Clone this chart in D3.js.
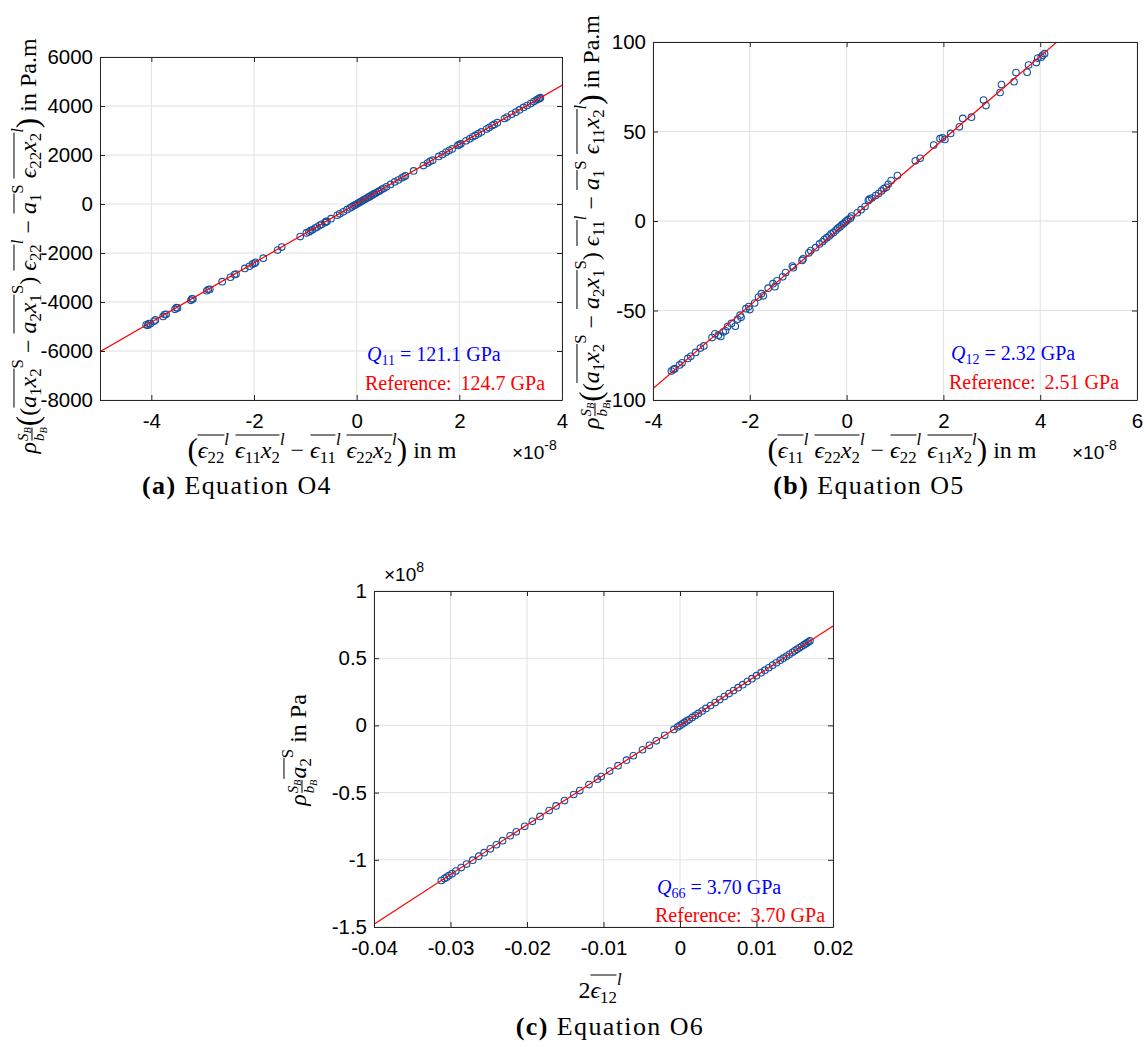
<!DOCTYPE html>
<html>
<head>
<meta charset="utf-8">
<script src="https://cdn.jsdelivr.net/npm/d3@7"></script>
<style>
body { margin: 0; background: #fff; }
#fig { position: relative; width: 1146px; height: 1047px; overflow: hidden; }
#fig svg { position: absolute; left: 0; top: 0; }
.m { position: absolute; white-space: nowrap; font-family: "Liberation Serif", "Times New Roman", serif;
     font-size: 24px; color: #000; line-height: 1; transform: translate(-50%, -50%); }
.m.rot { transform: translate(-50%, -50%) rotate(-90deg); }
.m sub, .m sup { font-size: 0.7em; line-height: 0; position: relative; vertical-align: baseline; }
.m sub { top: 0.28em; }
.m sup { top: -0.55em; }
.m sup.hi { top: -0.8em; }
.ov { display: inline-block; border-top: 1px solid #000; padding-top: 2px; line-height: 1; }
.fr { display: inline-flex; flex-direction: column; font-size: 0.62em; vertical-align: 0.55em;
      text-align: center; line-height: 1.05; margin: 0 1px; }
.fr > span:first-child { border-bottom: 1px solid #000; }
.big { font-size: 1.3em; line-height: 0.8; position: relative; top: 0.08em; }
.cap { position: absolute; white-space: nowrap; font-family: "Liberation Serif", serif; font-size: 26px;
       line-height: 1; transform: translate(-50%, -50%); letter-spacing: 1.4px; }
</style>
</head>
<body>
<div id="fig"></div>
<script>
// ---- data ----
// (a) Equation O4 : x in 1e-8 m, y in Pa.m
var xA = [-4.10,-4.07,-4.05,-4.02,-3.95,-3.92,-3.77,-3.74,-3.71,-3.54,-3.51,-3.49,-3.23,-3.21,-3.19,-2.92,-2.89,-2.86,
  -2.62,-2.46,-2.38,-2.35,-2.18,-2.09,-2.03,-1.99,-1.97,-1.82,-1.54,-1.46,-1.10,-0.98,-0.93,-0.90,-0.86,-0.81,-0.77,
  -0.72,-0.68,-0.62,-0.60,-0.58,-0.50,-0.38,-0.33,-0.26,-0.19,-0.13,-0.09,-0.05,-0.02,0.01,0.03,0.06,0.08,0.11,0.14,
  0.17,0.20,0.23,0.26,0.29,0.32,0.35,0.38,0.42,0.45,0.49,0.53,0.58,0.66,0.74,0.81,0.88,0.92,0.95,1.11,1.30,1.38,1.43,
  1.48,1.60,1.67,1.74,1.80,1.86,1.97,2.00,2.03,2.13,2.20,2.26,2.31,2.37,2.43,2.53,2.58,2.64,2.68,2.74,2.88,2.93,3.02,
  3.10,3.17,3.25,3.32,3.39,3.45,3.50,3.53,3.56,3.58];
var yA = [-4930,-4950,-4880,-4890,-4790,-4730,-4590,-4510,-4500,-4300,-4230,-4240,-3930,-3870,-3880,-3540,-3490,-3480,
  -3170,-2990,-2880,-2860,-2630,-2540,-2450,-2420,-2380,-2210,-1880,-1760,-1330,-1180,-1140,-1090,-1050,-980,-940,
  -870,-830,-760,-720,-710,-600,-460,-400,-320,-230,-160,-110,-60,-30,10,40,70,100,130,170,
  200,240,280,310,350,390,420,460,510,540,600,640,700,800,900,980,1070,1110,1150,1350,1570,1670,1740,
  1790,1940,2020,2110,2180,2250,2390,2420,2460,2580,2660,2740,2800,2870,2940,3060,3120,3200,3250,3320,3490,3550,3660,
  3750,3840,3940,4020,4100,4180,4240,4280,4310,4340];
var lineA = [[-5, -6030], [4, 4845]];

// (b) Equation O5 : x in 1e-8 m, y in Pa.m
var xB = [-3.62,-3.58,-3.55,-3.45,-3.40,-3.28,-3.22,-3.12,-3.02,-2.95,-2.78,-2.72,-2.65,-2.60,-2.55,-2.50,-2.46,-2.38,
  -2.30,-2.25,-2.20,-2.18,-2.08,-2.02,-2.00,-1.90,-1.82,-1.76,-1.72,-1.62,-1.52,-1.48,-1.44,-1.32,-1.26,-1.12,-1.10,
  -0.92,-0.90,-0.78,-0.74,-0.64,-0.56,-0.50,-0.46,-0.41,-0.36,-0.32,-0.27,-0.22,-0.18,-0.14,-0.10,-0.06,-0.03,0.00,
  0.03,0.08,0.10,0.22,0.30,0.38,0.45,0.47,0.52,0.60,0.66,0.72,0.77,0.82,0.86,0.92,1.05,1.42,1.52,1.80,1.93,1.98,2.03,
  2.15,2.33,2.40,2.58,2.83,2.88,3.17,3.20,3.46,3.50,3.73,3.76,3.92,3.95,4.02,4.05,4.09];
var yB = [-83.8,-83.0,-82.5,-80.4,-79.2,-76.8,-75.6,-73.4,-71.0,-69.8,-65.1,-63.0,-63.8,-64.5,-62.0,-61.3,-59.0,-57.2,
  -58.8,-54.9,-52.6,-53.8,-49.0,-47.8,-49.5,-45.8,-42.5,-40.6,-41.8,-37.5,-35.0,-36.7,-33.4,-31.2,-28.8,-25.2,-26.1,
  -22.0,-21.2,-17.8,-16.5,-14.9,-12.8,-11.6,-10.4,-9.3,-8.4,-7.2,-6.4,-5.1,-4.0,-3.3,-2.2,-1.4,-0.6,0.1,
  0.8,1.6,2.8,4.6,6.3,8.1,11.4,12.2,12.8,14.2,15.3,16.8,18.1,18.8,20.5,22.6,25.4,33.6,35.0,42.4,46.0,46.5,45.6,
  48.9,52.6,57.3,58.0,67.6,64.5,71.8,76.2,77.8,82.9,83.1,87.1,88.5,91.0,91.5,92.6,93.5];
var lineB = [[-4, -93.6], [6, 138.4]];

// (c) Equation O6 : x = 2 eps12, y in 1e8 Pa
var xC = [-0.0312,-0.0308,-0.0305,-0.0302,-0.0298,-0.0293,-0.0286,-0.0279,-0.0271,-0.0263,-0.0256,-0.0248,-0.0240,
  -0.0232,-0.0222,-0.0214,-0.0203,-0.0193,-0.0183,-0.0171,-0.0162,-0.0151,-0.0139,-0.0131,-0.0119,-0.0108,-0.0103,
  -0.0092,-0.0081,-0.0070,-0.0061,-0.0049,-0.0040,-0.0031,-0.0020,-0.0008,-0.0003,0.0000,0.0003,0.0006,0.0009,0.0012,
  0.0016,0.0020,0.0024,0.0029,0.0034,0.0040,0.0046,0.0052,0.0058,0.0064,0.0070,0.0076,0.0082,0.0088,0.0094,0.0100,
  0.0106,0.0111,0.0116,0.0121,0.0126,0.0131,0.0135,0.0139,0.0143,0.0147,0.0150,0.0153,0.0156,0.0159,0.0162,0.0164,
  0.0166,0.0168,0.0170];
var yC = [-1.154,-1.140,-1.129,-1.117,-1.103,-1.084,-1.058,-1.032,-1.003,-0.973,-0.947,-0.918,-0.888,
  -0.858,-0.821,-0.792,-0.751,-0.714,-0.677,-0.633,-0.599,-0.559,-0.514,-0.485,-0.440,-0.400,-0.381,
  -0.340,-0.300,-0.259,-0.226,-0.181,-0.148,-0.115,-0.074,-0.030,-0.011,0.000,0.011,0.022,0.033,0.044,
  0.059,0.074,0.089,0.107,0.126,0.148,0.170,0.192,0.215,0.237,0.259,0.281,0.303,0.326,0.348,0.370,
  0.392,0.411,0.429,0.448,0.466,0.485,0.500,0.514,0.529,0.544,0.555,0.566,0.577,0.588,0.599,0.607,
  0.614,0.622,0.629];
var lineC = [[-0.04, -1.48], [0.02, 0.74]];

// tick values
var xTicksA = [-4, -2, 0, 2, 4], yTicksA = [-8000, -6000, -4000, -2000, 0, 2000, 4000, 6000];
var xTicksB = [-4, -2, 0, 2, 4, 6], yTicksB = [-100, -50, 0, 50, 100];
var xTicksC = [-0.04, -0.03, -0.02, -0.01, 0, 0.01, 0.02], yTicksC = [-1.5, -1, -0.5, 0, 0.5, 1];

var fitText = [["11", "121.1"], ["12", "2.32"], ["66", "3.70"]];
var refText = ["124.7", "2.51", "3.70"];

var W = 1146, H = 1047;
var fig = d3.select("#fig");
var svg = fig.append("svg").attr("width", W).attr("height", H);

var markerColor = "#15509f", lineColor = "#ff0000", axisColor = "#262626", gridColor = "#e0e0e0";
var sans = "'Liberation Sans', Arial, sans-serif";

function panel(p, idx) {
  var x = d3.scaleLinear().domain(p.xDom).range([p.l, p.r]);
  var y = d3.scaleLinear().domain(p.yDom).range([p.b, p.t]);
  var g = svg.append("g");

  // grid
  g.append("g").selectAll("line").data(p.xTicks).join("line")
    .attr("x1", d => x(d)).attr("x2", d => x(d)).attr("y1", p.t).attr("y2", p.b)
    .attr("stroke", gridColor).attr("stroke-width", 1);
  g.append("g").selectAll("line").data(p.yTicks).join("line")
    .attr("y1", d => y(d)).attr("y2", d => y(d)).attr("x1", p.l).attr("x2", p.r)
    .attr("stroke", gridColor).attr("stroke-width", 1);

  var clipId = "clip" + idx;
  svg.append("clipPath").attr("id", clipId).append("rect")
    .attr("x", p.l).attr("y", p.t).attr("width", p.r - p.l).attr("height", p.b - p.t);

  // points
  var pts = p.xs.map((v, i) => [v, p.ys[i]]);
  g.append("g").selectAll("circle").data(pts).join("circle")
    .attr("cx", d => x(d[0])).attr("cy", d => y(d[1])).attr("r", 3.3)
    .attr("fill", "none").attr("stroke", markerColor).attr("stroke-width", 1.1);

  // fitted line
  g.append("path").datum(p.line).attr("clip-path", "url(#" + clipId + ")")
    .attr("d", d3.line().x(d => x(d[0])).y(d => y(d[1])))
    .attr("fill", "none").attr("stroke", lineColor).attr("stroke-width", 1.2);

  var fmt = d => String(d);
  var ax = [
    g.append("g").attr("transform", "translate(0," + p.b + ")")
      .call(d3.axisBottom(x).tickValues(p.xTicks).tickFormat(fmt).tickSizeInner(-5).tickSizeOuter(0).tickPadding(13)),
    g.append("g").attr("transform", "translate(" + p.l + ",0)")
      .call(d3.axisLeft(y).tickValues(p.yTicks).tickFormat(fmt).tickSizeInner(-5).tickSizeOuter(0).tickPadding(7)),
    g.append("g").attr("transform", "translate(0," + p.t + ")")
      .call(d3.axisTop(x).tickValues(p.xTicks).tickFormat("").tickSizeInner(-5).tickSizeOuter(0)),
    g.append("g").attr("transform", "translate(" + p.r + ",0)")
      .call(d3.axisRight(y).tickValues(p.yTicks).tickFormat("").tickSizeInner(-5).tickSizeOuter(0))
  ];
  ax.forEach(function(a) {
    a.select(".domain").attr("stroke", axisColor).attr("stroke-width", 1);
    a.selectAll(".tick line").attr("stroke", axisColor);
    a.selectAll(".tick text").attr("fill", "#000")
      .style("font-family", sans).style("font-size", "20.5px");
  });

  // exponent label
  if (p.expo) {
    var t = svg.append("text").attr("x", p.expo.x).attr("y", p.expo.y)
      .style("font-family", sans).style("font-size", "19px").attr("fill", "#000");
    t.append("tspan").text("×10");
    t.append("tspan").attr("dy", -9).style("font-size", "14px").text(p.expo.e);
  }

  // annotation text
  var ft = svg.append("text").attr("x", p.leg.x).attr("y", p.leg.y1)
    .style("font-family", "'Liberation Serif', serif").style("font-size", "20px").attr("fill", "#0000ff");
  ft.append("tspan").style("font-style", "italic").text("Q");
  ft.append("tspan").attr("dy", 4).style("font-size", "14px").text(fitText[idx][0]);
  ft.append("tspan").attr("dy", -4).text(" = " + fitText[idx][1] + " GPa");
  var rt = svg.append("text").attr("x", p.leg.x - 2).attr("y", p.leg.y2)
    .style("font-family", "'Liberation Serif', serif").style("font-size", "20px").attr("fill", "#ff0000");
  rt.append("tspan").text("Reference:");
  rt.append("tspan").attr("dx", 9).text(refText[idx] + " GPa");
}

panel({ l: 100, r: 562, t: 57, b: 400, xDom: [-5, 4], yDom: [-8000, 6000], xTicks: xTicksA, yTicks: yTicksA,
        xs: xA, ys: yA, line: lineA, expo: { x: 512, y: 459, e: "-8" }, leg: { x: 367, y1: 361, y2: 390 } }, 0);
panel({ l: 653, r: 1137, t: 42, b: 400, xDom: [-4, 6], yDom: [-100, 100], xTicks: xTicksB, yTicks: yTicksB,
        xs: xB, ys: yB, line: lineB, expo: { x: 1072, y: 459, e: "-8" }, leg: { x: 951, y1: 360, y2: 389 } }, 1);
panel({ l: 374, r: 833, t: 591, b: 927, xDom: [-0.04, 0.02], yDom: [-1.5, 1], xTicks: xTicksC, yTicks: yTicksC,
        xs: xC, ys: yC, line: lineC, expo: { x: 384, y: 581, e: "8" }, leg: { x: 657, y1: 894, y2: 922 } }, 2);

// ---- math axis labels (HTML overlay) ----
function ov(s) { return '<span class="ov">' + s + '</span>'; }
function eps(n) { return '<i>ϵ</i><sub>' + n + '</sub>'; }
var rhoFrac = '<i>ρ</i><span class="fr"><span><i>S</i><sub><i>B</i></sub></span><span><i>b</i><sub><i>B</i></sub></span></span>';
var supS = '<sup class="hi">S</sup>', supL = '<sup class="hi"><i>l</i></sup>';
var ax1x2 = '<i>a</i><sub>1</sub><i>x</i><sub>2</sub>', ax2x1 = '<i>a</i><sub>2</sub><i>x</i><sub>1</sub>';

function yLab(n) {
  return rhoFrac + '<span class="big">(</span>(' + ov(ax1x2) + supS + ' − ' + ov(ax2x1) + supS + ') ' +
    ov(eps(n)) + supL + ' − ' + ov('<i>a</i><sub>1</sub>') + supS + ' ' + ov(eps(n) + '<i>x</i><sub>2</sub>') + supL +
    '<span class="big">)</span> in Pa.m';
}
function xLab(a, b) {
  return '<span class="big">(</span>' + ov(eps(a)) + supL + ' ' + ov(eps(b) + '<i>x</i><sub>2</sub>') + supL + ' − ' +
    ov(eps(b)) + supL + ' ' + ov(eps(a) + '<i>x</i><sub>2</sub>') + supL + '<span class="big">)</span> in m';
}

var labels = [
  { html: yLab("22"), x: 31, y: 246, rot: true },
  { html: yLab("11"), x: 594, y: 222, rot: true },
  { html: rhoFrac + ov('<i>a</i><sub>2</sub>') + supS + ' in Pa', x: 301, y: 750, rot: true },
  { html: xLab("22", "11"), x: 322, y: 448, rot: false },
  { html: xLab("11", "22"), x: 902, y: 448, rot: false },
  { html: '2' + ov(eps("12")) + supL, x: 600, y: 988, rot: false }
];
labels.forEach(function(d) {
  fig.append("div").attr("class", d.rot ? "m rot" : "m").style("left", d.x + "px").style("top", d.y + "px").html(d.html);
});

var captions = [["(a)", "Equation O4", 237, 486], ["(b)", "Equation O5", 869, 486], ["(c)", "Equation O6", 610, 1027]];
captions.forEach(function(c) {
  fig.append("div").attr("class", "cap").style("left", c[2] + "px").style("top", c[3] + "px")
    .html("<b>" + c[0] + "</b> " + c[1]);
});
</script>
</body>
</html>
